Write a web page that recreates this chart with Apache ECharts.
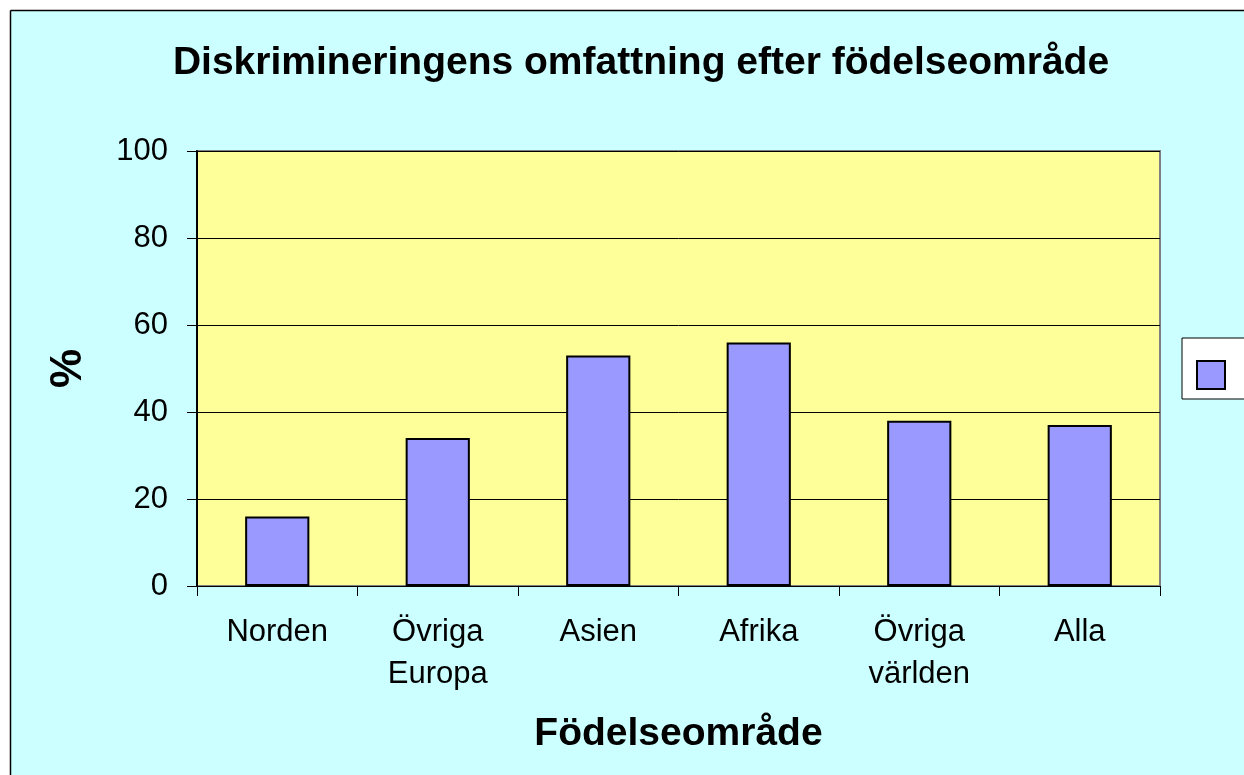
<!DOCTYPE html>
<html>
<head>
<meta charset="utf-8">
<script src="https://cdn.jsdelivr.net/npm/echarts@6/dist/echarts.min.js"></script>
<style>
html,body{margin:0;padding:0;background:#fff;}
#chart{width:1244px;height:775px;}
</style>
</head>
<body>
<div id="chart"></div>
<script>
const categories = ['Norden', 'Övriga\nEuropa', 'Asien', 'Afrika', 'Övriga\nvärlden', 'Alla'];
const values = [16, 34, 53, 56, 38, 37];
const yTicks = [0, 20, 40, 60, 80, 100];
const titleText = 'Diskrimineringens omfattning efter födelseområde';
const xName = 'Födelseområde';
const yName = '%';
const seriesName = ' ';

const FONT = '"Liberation Sans", Arial, sans-serif';
const chart = echarts.init(document.getElementById('chart'), null, {renderer: 'canvas'});
chart.setOption({
  animation: false,
  backgroundColor: '#CCFFFF',
  title: {
    text: titleText,
    left: 636,
    top: 39,
    textAlign: 'center',
    textStyle: {fontFamily: FONT, fontSize: 39, fontWeight: 'bold', color: '#000'}
  },
  legend: {
    data: [{name: seriesName, icon: 'rect'}],
    left: 1182,
    top: 338,
    orient: 'vertical',
    padding: [22, 40, 9, 14],
    itemWidth: 28,
    itemHeight: 28,
    backgroundColor: '#fff',
    borderColor: '#000',
    borderWidth: 1,
    textStyle: {fontSize: 12, fontFamily: FONT}
  },
  grid: {
    left: 197, right: 84, top: 151, bottom: 189,
    show: true,
    backgroundColor: '#FFFF99',
    borderColor: '#808080',
    borderWidth: 2
  },
  xAxis: {
    type: 'category',
    data: categories,
    name: xName,
    nameLocation: 'middle',
    nameGap: 129,
    nameTextStyle: {fontFamily: FONT, fontSize: 39, fontWeight: 'bold', color: '#000'},
    axisLine: {lineStyle: {color: '#000', width: 1}},
    axisTick: {show: true, length: 10, lineStyle: {color: '#000'}},
    axisLabel: {fontFamily: FONT, fontSize: 31, color: '#000', margin: 25, lineHeight: 42, interval: 0}
  },
  yAxis: {
    type: 'value',
    min: yTicks[0],
    max: yTicks[yTicks.length - 1],
    interval: yTicks[1] - yTicks[0],
    name: yName,
    nameLocation: 'middle',
    nameGap: 106,
    nameRotate: 90,
    nameTextStyle: {fontFamily: FONT, fontSize: 44, fontWeight: 'bold', color: '#000'},
    axisLine: {show: true, lineStyle: {color: '#000', width: 2}},
    axisTick: {show: true, length: 10, lineStyle: {color: '#000'}},
    axisLabel: {fontFamily: FONT, fontSize: 31, color: '#000', margin: 29},
    splitLine: {show: true, lineStyle: {color: '#000', width: 1}}
  },
  series: [{
    name: seriesName,
    type: 'bar',
    data: values,
    barWidth: '40%',
    itemStyle: {color: '#9999FF', borderColor: '#000', borderWidth: 2}
  }],
  graphic: {
    elements: [
      {type: 'rect', shape: {x: 0, y: 0, width: 1244, height: 10}, style: {fill: '#fff'}, silent: true},
      {type: 'rect', shape: {x: 0, y: 0, width: 10, height: 775}, style: {fill: '#fff'}, silent: true},
      {type: 'line', shape: {x1: 10.5, y1: 10.5, x2: 1244, y2: 10.5}, style: {stroke: '#000', lineWidth: 1.5}, silent: true},
      {type: 'line', shape: {x1: 10.5, y1: 10.5, x2: 10.5, y2: 775}, style: {stroke: '#000', lineWidth: 1.5}, silent: true}
    ]
  }
});
</script>
</body>
</html>
